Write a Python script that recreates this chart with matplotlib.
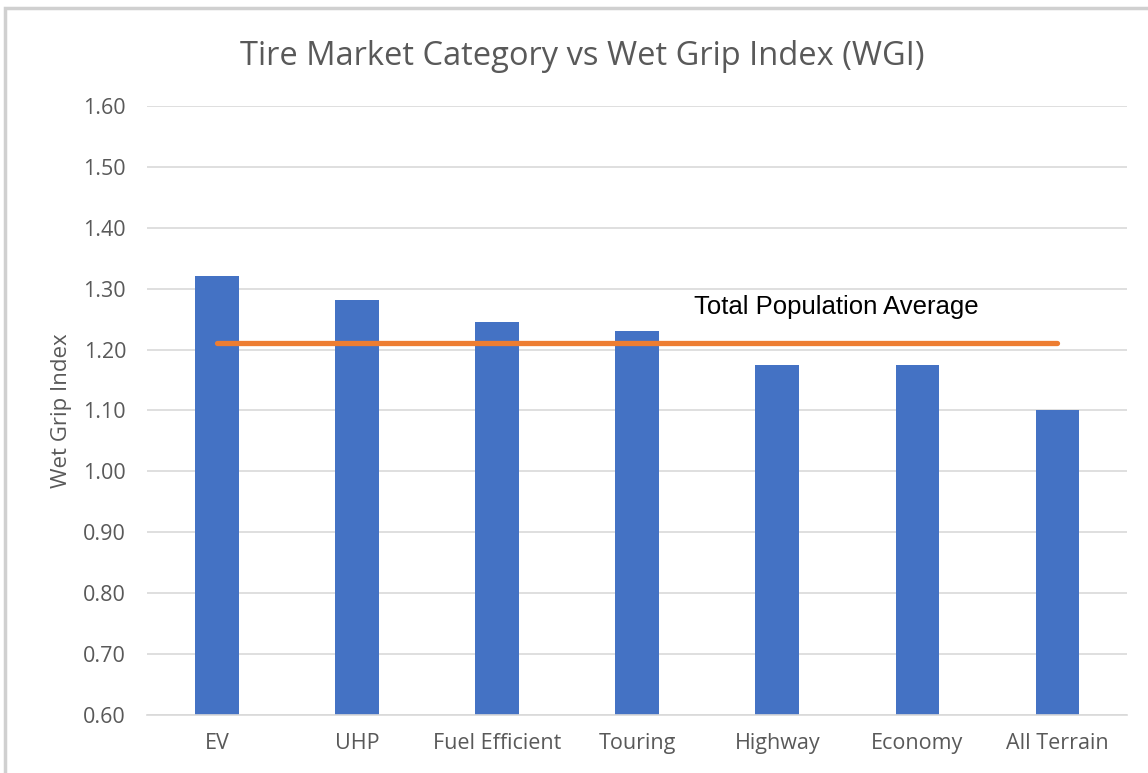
import matplotlib.pyplot as plt
from matplotlib.patches import Rectangle

# data
categories = ["EV", "UHP", "Fuel Efficient", "Touring", "Highway", "Economy", "All Terrain"]
wgi = [1.321, 1.281, 1.245, 1.231, 1.174, 1.174, 1.101]
population_avg = 1.211
yticks = [0.60, 0.70, 0.80, 0.90, 1.00, 1.10, 1.20, 1.30, 1.40, 1.50, 1.60]

bar_color = "#4472C4"
line_color = "#ED7D31"
text_gray = "#595959"

fig = plt.figure(figsize=(11.48, 7.73), dpi=100)
ax = fig.add_axes([0.128, 0.075, 0.854, 0.788])

x = list(range(len(categories)))
ax.bar(x, wgi, width=0.31, color=bar_color, zorder=2)
ax.plot(x, [population_avg] * len(x), color=line_color, linewidth=3.8,
        solid_capstyle="round", zorder=3)
ax.text(4.42, 1.27, "Total Population Average", ha="center", va="center",
        fontsize=18.5, family="Liberation Sans", color="black")

ax.set_xlim(-0.5, len(categories) - 0.5)
ax.set_ylim(0.6, 1.6)
ax.set_yticks(yticks)
ax.set_yticklabels([f"{v:.2f}" for v in yticks])
ax.set_xticks(x)
ax.set_xticklabels(categories)
ax.tick_params(axis="both", length=0, labelsize=15.5, colors=text_gray,
               labelfontfamily="Open Sans")
ax.tick_params(axis="x", pad=13)
ax.tick_params(axis="y", pad=15)
ax.grid(axis="y", color="#d9d9d9", linewidth=1.2, zorder=0)
for s in ["top", "right", "left"]:
    ax.spines[s].set_visible(False)
ax.spines["bottom"].set_color("#d9d9d9")
ax.spines["bottom"].set_linewidth(1.2)

ax.set_ylabel("Wet Grip Index", fontsize=16, color=text_gray, family="Open Sans", labelpad=8)
fig.text(0.507, 0.927, "Tire Market Category vs Wet Grip Index (WGI)", ha="center", va="center",
         fontsize=23.5, color=text_gray, family="Open Sans")

# outer chart border
fig.patches.append(Rectangle((0.004, -0.01), 1.1, 1.0, transform=fig.transFigure,
                             fill=False, edgecolor="#d0d0d0", linewidth=2.5))

fig.savefig("out.png", dpi=100)
